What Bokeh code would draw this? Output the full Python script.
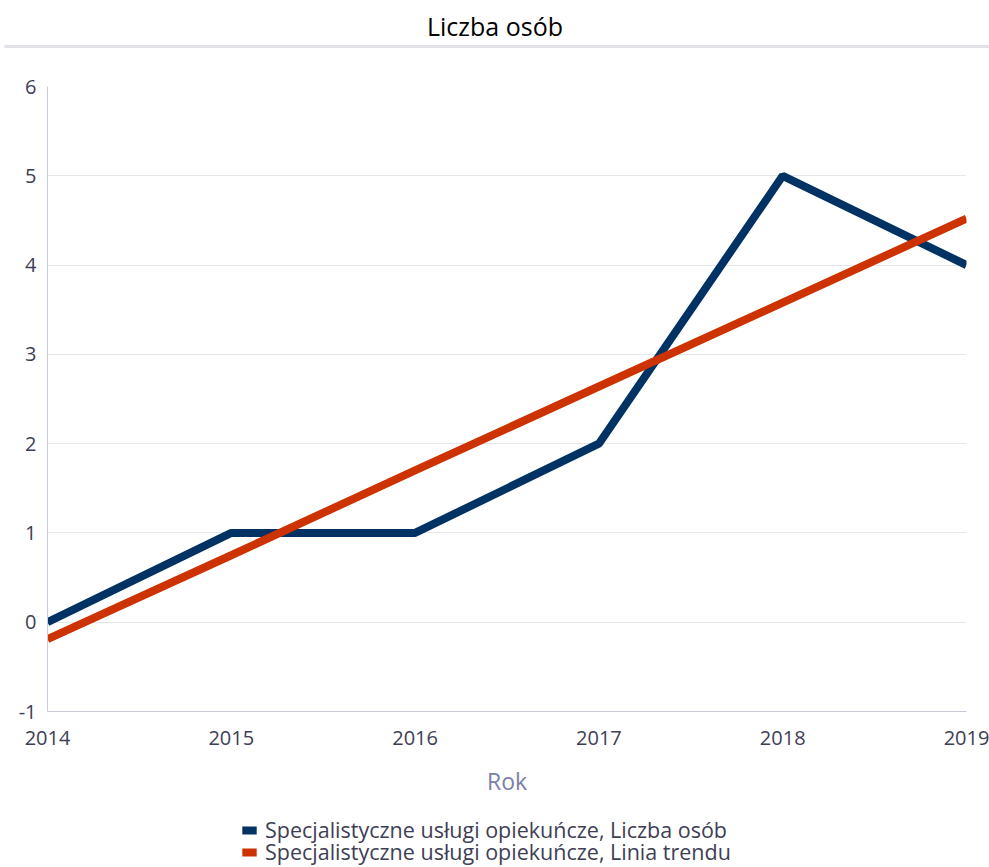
from bokeh.plotting import figure
from bokeh.layouts import column
from bokeh.models import Legend, LegendItem, FixedTicker, Range1d
from bokeh.core.properties import value
from bokeh.embed import file_html
from bokeh.resources import INLINE

title_text = "Liczba osób"
years = [2014, 2015, 2016, 2017, 2018, 2019]
liczba_osob = [0, 1, 1, 2, 5, 4]
linia_trendu = [-0.19, 0.75, 1.70, 2.64, 3.58, 4.52]
series_names = ["Specjalistyczne usługi opiekuńcze, Liczba osób",
                "Specjalistyczne usługi opiekuńcze, Linia trendu"]
series_colors = ["#003264", "#cc3300"]
y_ticks = [-1, 0, 1, 2, 3, 4, 5, 6]
x_label = "Rok"

FONT = "Open Sans"
W = 989

# header with title and separator line
h = figure(width=W, height=54, output_backend="svg", toolbar_location=None,
           x_range=Range1d(0, W), y_range=Range1d(0, 54),
           x_axis_location=None, y_axis_location=None,
           min_border=0, outline_line_color=None)
h.grid.visible = False
h.text(x=[W / 2], y=[29], text=[title_text], text_align="center",
       text_baseline="middle", text_font=value(FONT), text_font_size="25px",
       text_color="#000000")
h.segment(x0=[4], y0=[8], x1=[W + 10], y1=[8], line_color="#e2e2ea", line_width=3)

p = figure(width=W, height=756, output_backend="svg", toolbar_location=None,
           x_range=Range1d(2014, 2019), y_range=Range1d(-1, 6),
           min_border_left=47, min_border_right=23, min_border_top=32,
           min_border_bottom=99, outline_line_color=None)

r1 = p.line(years, liczba_osob, line_color=series_colors[0], line_width=8)
r2 = p.line(years, linia_trendu, line_color=series_colors[1], line_width=8)

p.xgrid.visible = False
p.ygrid.grid_line_color = "#e6e6ec"
p.ygrid.grid_line_width = 1
p.yaxis.ticker = FixedTicker(ticks=y_ticks)
p.xaxis.ticker = FixedTicker(ticks=years)
p.yaxis.major_label_overrides = {t: str(t) for t in y_ticks}

for ax in (p.xaxis[0], p.yaxis[0]):
    ax.axis_line_color = "#c8cadc"
    ax.axis_line_width = 1
    ax.major_tick_line_color = None
    ax.minor_tick_line_color = None
    ax.major_tick_out = 0
    ax.major_tick_in = 0
    ax.major_label_text_font = FONT
    ax.major_label_text_font_size = "20px"
    ax.major_label_text_color = "#3e3e55"

p.yaxis.major_label_standoff = 11
p.xaxis.major_label_standoff = 19
p.xaxis.axis_label = x_label
p.xaxis.axis_label_text_font = FONT
p.xaxis.axis_label_text_font_size = "23px"
p.xaxis.axis_label_text_font_style = "normal"
p.xaxis.axis_label_text_color = "#7a80a8"
p.xaxis.axis_label_standoff = 17

# footer with legend (one legend per row for exact row spacing)
f = figure(width=W, height=57, output_backend="svg", toolbar_location=None,
           x_range=Range1d(0, 1), y_range=Range1d(0, 1),
           x_axis_location=None, y_axis_location=None,
           min_border=0, outline_line_color=None)
f.grid.visible = False
row_bottoms = [23, 1]
for name, col, yb in zip(series_names, series_colors, row_bottoms):
    rr = f.rect(x=[-5], y=[-5], width=1, height=1, fill_color=col, line_color=None)
    lg = Legend(items=[LegendItem(label=name, renderers=[rr])],
                location=(240, yb), orientation="vertical",
                border_line_color=None, background_fill_alpha=0,
                padding=0, margin=0, spacing=0,
                glyph_width=18, glyph_height=10, label_height=22,
                label_standoff=7,
                label_text_font=FONT, label_text_font_size="21.5px",
                label_text_color="#3e3e55")
    f.add_layout(lg, "center")

layout = column(column(h), p, column(f), spacing=0)
open("out.html", "w").write(file_html(layout, INLINE))
